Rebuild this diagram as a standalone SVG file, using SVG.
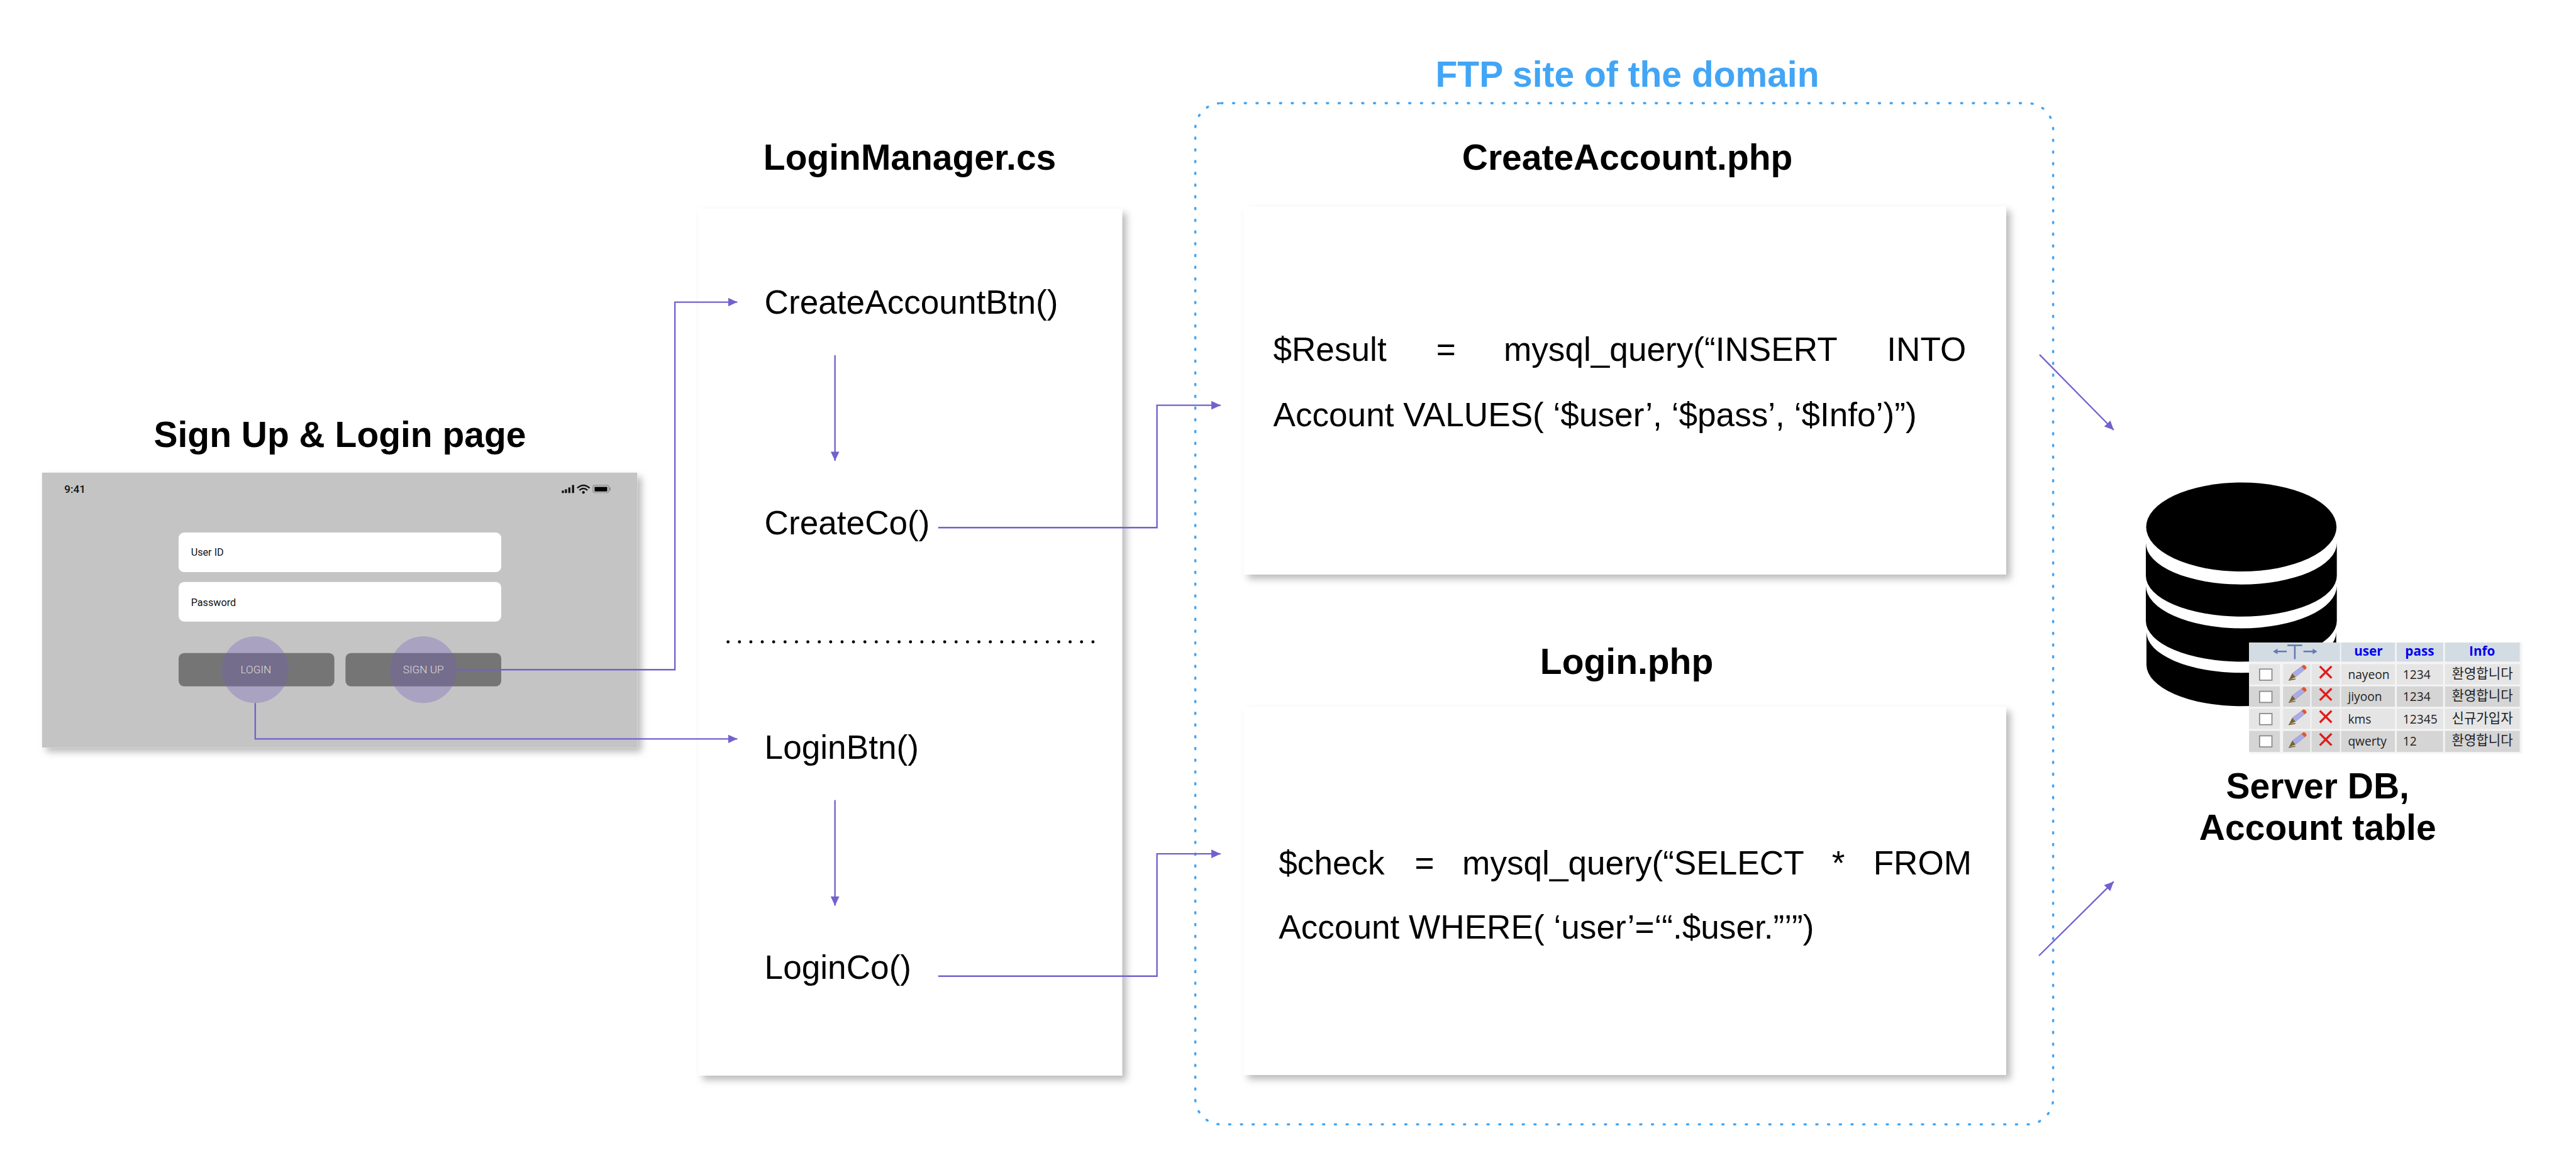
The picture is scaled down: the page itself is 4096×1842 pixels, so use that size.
<svg xmlns="http://www.w3.org/2000/svg" xmlns:xlink="http://www.w3.org/1999/xlink" width="4096" height="1842" viewBox="0 0 4096 1842">
<style>
text{font-family:"Liberation Sans",Arial,sans-serif;fill:#000}
.title{font-size:58px;font-weight:700;text-anchor:middle}
.body{font-size:54.100px}
.card{fill:#fff;filter:url(#shadow)}
.conn{fill:none;stroke:#7460cc;stroke-width:2.4}
.ui{font-family:Roboto,"Liberation Sans",sans-serif}
.field{fill:#fff}
.btn{fill:#757575}
.halo{fill:#755dbb;fill-opacity:.33}
.btntxt{font-family:Roboto,sans-serif;font-size:17.5px;font-weight:300;fill:#ddd;text-anchor:middle}
.fieldtxt{font-family:Roboto,sans-serif;font-size:16.5px;fill:#111}
.hd{fill:#d3dce3}
.r1{fill:#e5e5e5}
.r2{fill:#d5d5d5}
.th{font-family:"Open Sans",sans-serif;font-size:21px;font-weight:700;fill:#0000f0;text-anchor:middle}
.td{font-family:"Open Sans",sans-serif;font-size:19.5px;fill:#222}
.ko{font-family:"Noto Sans CJK KR",sans-serif;font-size:21.5px;fill:#222}
.cb{fill:#fff;stroke:#8a8a8a;stroke-width:1.8}
.x{fill:none;stroke:#e01c1c;stroke-width:3.4}
.tb{fill:none;stroke:#6478b4;stroke-width:2.6}
</style>
<defs>
<filter id="shadow" x="-10%" y="-10%" width="120%" height="120%">
<feDropShadow dx="7" dy="7" stdDeviation="6" flood-color="#000" flood-opacity=".27"/>
</filter>
<marker id="ah" markerUnits="userSpaceOnUse" markerWidth="16" markerHeight="14" refX="15" refY="7" orient="auto">
<path d="M0,0L15,7L0,14Z" fill="#7460cc"/>
</marker>
<g id="pencil">
<path d="M0,0L5,-10L21,-22L26,-17L10,-4Z" fill="#aaaae8" stroke="#8080b8" stroke-width=".6"/>
<path d="M20,-21L23,-24Q28,-23 28,-18L25,-16Z" fill="#e2552f"/>
<path d="M0,0L5,-10L10,-4Z" fill="#7a6420"/>
<path d="M-1,1L10,-1" stroke="#6a5a20" stroke-width="1.5" fill="none"/>
</g>
<path id="cross" class="x" d="M-9.5,-9.5L9.5,9.5M9.5,-9.5L-9.5,9.5"/>
</defs>
<rect width="4096" height="1842" fill="#fff"/>
<g transform="scale(0.98273)">

<g id="ftp-site">
<text class="title" x="2633" y="140" style="fill:#42a5f5">FTP site of the domain</text>
<rect x="1934" y="167" width="1388" height="1653" rx="42" fill="none" stroke="#42a5f5" stroke-width="3.600" stroke-linecap="round" stroke-dasharray="2 17"/>
</g>

<g id="signup-login-page">
<text class="title" x="550" y="724">Sign Up &amp; Login page</text>
<rect x="68" y="765" width="963" height="445" fill="#c4c4c4" filter="url(#shadow)"/>
<text class="ui" x="104" y="798" font-size="17.5" font-weight="500" style="fill:#111">9:41</text>
<g fill="#111">
<rect x="909" y="794" width="3.4" height="4"/><rect x="914" y="792" width="3.4" height="6"/><rect x="919.500" y="789" width="3.4" height="9"/><rect x="925.500" y="785" width="3.4" height="13"/>
</g>
<path d="M934,790Q944,781 954,790M937.500,793.500Q944,788 950.500,793.500" fill="none" stroke="#111" stroke-width="2.4"/>
<circle cx="944" cy="797" r="2.200" fill="#111"/>
<rect x="959.500" y="785.500" width="25.500" height="12" rx="3" fill="none" stroke="#8a8a8a" stroke-width="1.200"/>
<rect x="962" y="788" width="20.500" height="7.500" rx="1" fill="#000"/>
<rect x="986" y="789" width="2" height="5" fill="#8a8a8a"/>
<rect class="field" x="289" y="862" width="522" height="64" rx="9"/>
<text class="fieldtxt" x="309" y="900">User ID</text>
<rect class="field" x="289" y="942" width="522" height="64" rx="9"/>
<text class="fieldtxt" x="309" y="981">Password</text>
<rect class="btn" x="289" y="1057" width="252" height="54" rx="9"/>
<rect class="btn" x="559" y="1057" width="252" height="54" rx="9"/>
<circle class="halo" cx="413" cy="1084" r="54"/>
<circle class="halo" cx="685" cy="1084" r="54"/>
<text class="btntxt" x="414" y="1090">LOGIN</text>
<text class="btntxt" x="685" y="1090">SIGN UP</text>
</g>

<g id="login-manager">
<text class="title" x="1472" y="275">LoginManager.cs</text>
<rect class="card" x="1130" y="338" width="685.500" height="1403"/>
<text class="body" x="1237" y="508">CreateAccountBtn()</text>
<text class="body" x="1237" y="865">CreateCo()</text>
<line x1="1178" y1="1039" x2="1772" y2="1039" stroke="#000" stroke-width="5" stroke-linecap="round" stroke-dasharray="0 18.45"/>
<text class="body" x="1237" y="1228">LoginBtn()</text>
<text class="body" x="1237" y="1584">LoginCo()</text>
</g>

<g id="create-account-php">
<text class="title" x="2633" y="275">CreateAccount.php</text>
<rect class="card" x="2012" y="334" width="1234" height="596"/>
<text class="body"><tspan x="2060" y="584">$Result</tspan><tspan x="2324" y="584">=</tspan><tspan x="2433" y="584">mysql_query(“INSERT</tspan><tspan x="3053" y="584">INTO</tspan></text>
<text class="body" x="2060" y="690">Account VALUES( ‘$user’, ‘$pass’, ‘$Info’)”)</text>
</g>

<g id="login-php">
<text class="title" x="2632" y="1091">Login.php</text>
<rect class="card" x="2012" y="1144" width="1234" height="596"/>
<text class="body"><tspan x="2069" y="1415">$check</tspan><tspan x="2289" y="1415">=</tspan><tspan x="2366" y="1415">mysql_query(“SELECT</tspan><tspan x="2964" y="1415">*</tspan><tspan x="3031" y="1415">FROM</tspan></text>
<text class="body" x="2069" y="1519">Account WHERE( ‘user’=‘“.$user.”’”)</text>
</g>

<g id="server-db">
<ellipse cx="3626.500" cy="853" rx="154" ry="72"/>
<path d="M3472,879A154.500,67 0 0 0 3781,879V932A154.500,66 0 0 1 3472,932Z"/>
<path d="M3472,948A154.500,69 0 0 0 3781,948V1005A154.500,66 0 0 1 3472,1005Z"/>
<path d="M3473,1023A153.500,66 0 0 0 3780,1023V1076A153.500,67 0 0 1 3473,1076Z"/>
<text class="title" x="3750" y="1292">Server DB,</text>
<text class="title" x="3750" y="1359">Account table</text>
</g>

<g id="account-table">
<rect x="3639" y="1040" width="442" height="180" fill="#f4f4f4"/>
<rect class="hd" x="3639" y="1040" width="147" height="31"/>
<rect class="hd" x="3788" y="1040" width="87" height="31"/>
<rect class="hd" x="3878" y="1040" width="75" height="31"/>
<rect class="hd" x="3956" y="1040" width="121" height="31"/>
<path class="tb" d="M3701,1044.500H3725M3713,1044.500V1067M3679,1054.500H3700M3727,1054.500H3748"/>
<path d="M3678,1054.500L3685,1050V1059ZM3749,1054.500L3742,1050V1059Z" fill="#6478b4"/>
<text class="th" x="3832" y="1061">user</text>
<text class="th" x="3915" y="1061">pass</text>
<text class="th" x="4016" y="1061">Info</text>

<g>
<rect class="r1" x="3639" y="1075" width="50" height="33"/><rect class="r1" x="3694" y="1075" width="44" height="33"/><rect class="r1" x="3740" y="1075" width="46" height="33"/><rect class="r1" x="3788" y="1075" width="87" height="33"/><rect class="r1" x="3878" y="1075" width="75" height="33"/><rect class="r1" x="3956" y="1075" width="121" height="33"/>
<rect class="cb" x="3656" y="1083" width="20" height="18"/>
<use xlink:href="#pencil" href="#pencil" x="3704" y="1100"/><use xlink:href="#cross" href="#cross" x="3763" y="1088"/>
<text class="td" x="3799" y="1099">nayeon</text><text class="td" x="3888" y="1099">1234</text><text class="ko" x="3967" y="1098">환영합니다</text>
</g>
<g>
<rect class="r2" x="3639" y="1111" width="50" height="33"/><rect class="r2" x="3694" y="1111" width="44" height="33"/><rect class="r2" x="3740" y="1111" width="46" height="33"/><rect class="r2" x="3788" y="1111" width="87" height="33"/><rect class="r2" x="3878" y="1111" width="75" height="33"/><rect class="r2" x="3956" y="1111" width="121" height="33"/>
<rect class="cb" x="3656" y="1119" width="20" height="18"/>
<use xlink:href="#pencil" href="#pencil" x="3704" y="1136"/><use xlink:href="#cross" href="#cross" x="3763" y="1124"/>
<text class="td" x="3799" y="1135">jiyoon</text><text class="td" x="3888" y="1135">1234</text><text class="ko" x="3967" y="1134">환영합니다</text>
</g>
<g>
<rect class="r1" x="3639" y="1147" width="50" height="33"/><rect class="r1" x="3694" y="1147" width="44" height="33"/><rect class="r1" x="3740" y="1147" width="46" height="33"/><rect class="r1" x="3788" y="1147" width="87" height="33"/><rect class="r1" x="3878" y="1147" width="75" height="33"/><rect class="r1" x="3956" y="1147" width="121" height="33"/>
<rect class="cb" x="3656" y="1155" width="20" height="18"/>
<use xlink:href="#pencil" href="#pencil" x="3704" y="1172"/><use xlink:href="#cross" href="#cross" x="3763" y="1160"/>
<text class="td" x="3799" y="1171">kms</text><text class="td" x="3888" y="1171">12345</text><text class="ko" x="3967" y="1170">신규가입자</text>
</g>
<g>
<rect class="r2" x="3639" y="1183" width="50" height="34"/><rect class="r2" x="3694" y="1183" width="44" height="34"/><rect class="r2" x="3740" y="1183" width="46" height="34"/><rect class="r2" x="3788" y="1183" width="87" height="34"/><rect class="r2" x="3878" y="1183" width="75" height="34"/><rect class="r2" x="3956" y="1183" width="121" height="34"/>
<rect class="cb" x="3656" y="1191" width="20" height="18"/>
<use xlink:href="#pencil" href="#pencil" x="3704" y="1209"/><use xlink:href="#cross" href="#cross" x="3763" y="1197"/>
<text class="td" x="3799" y="1207">qwerty</text><text class="td" x="3888" y="1207">12</text><text class="ko" x="3967" y="1206">환영합니다</text>
</g>
</g>

<g id="connectors">
<path class="conn" marker-end="url(#ah)" d="M739,1084H1092V489H1193"/>
<path class="conn" marker-end="url(#ah)" d="M413,1138V1196H1193"/>
<path class="conn" marker-end="url(#ah)" d="M1351,575V746"/>
<path class="conn" marker-end="url(#ah)" d="M1351,1295V1466"/>
<path class="conn" marker-end="url(#ah)" d="M1518,854H1872V656H1975"/>
<path class="conn" marker-end="url(#ah)" d="M1518,1580H1872V1382H1975"/>
<path class="conn" marker-end="url(#ah)" d="M3300,574L3420,696"/>
<path class="conn" marker-end="url(#ah)" d="M3299,1547L3420,1427"/>
</g>
</g>
</svg>
